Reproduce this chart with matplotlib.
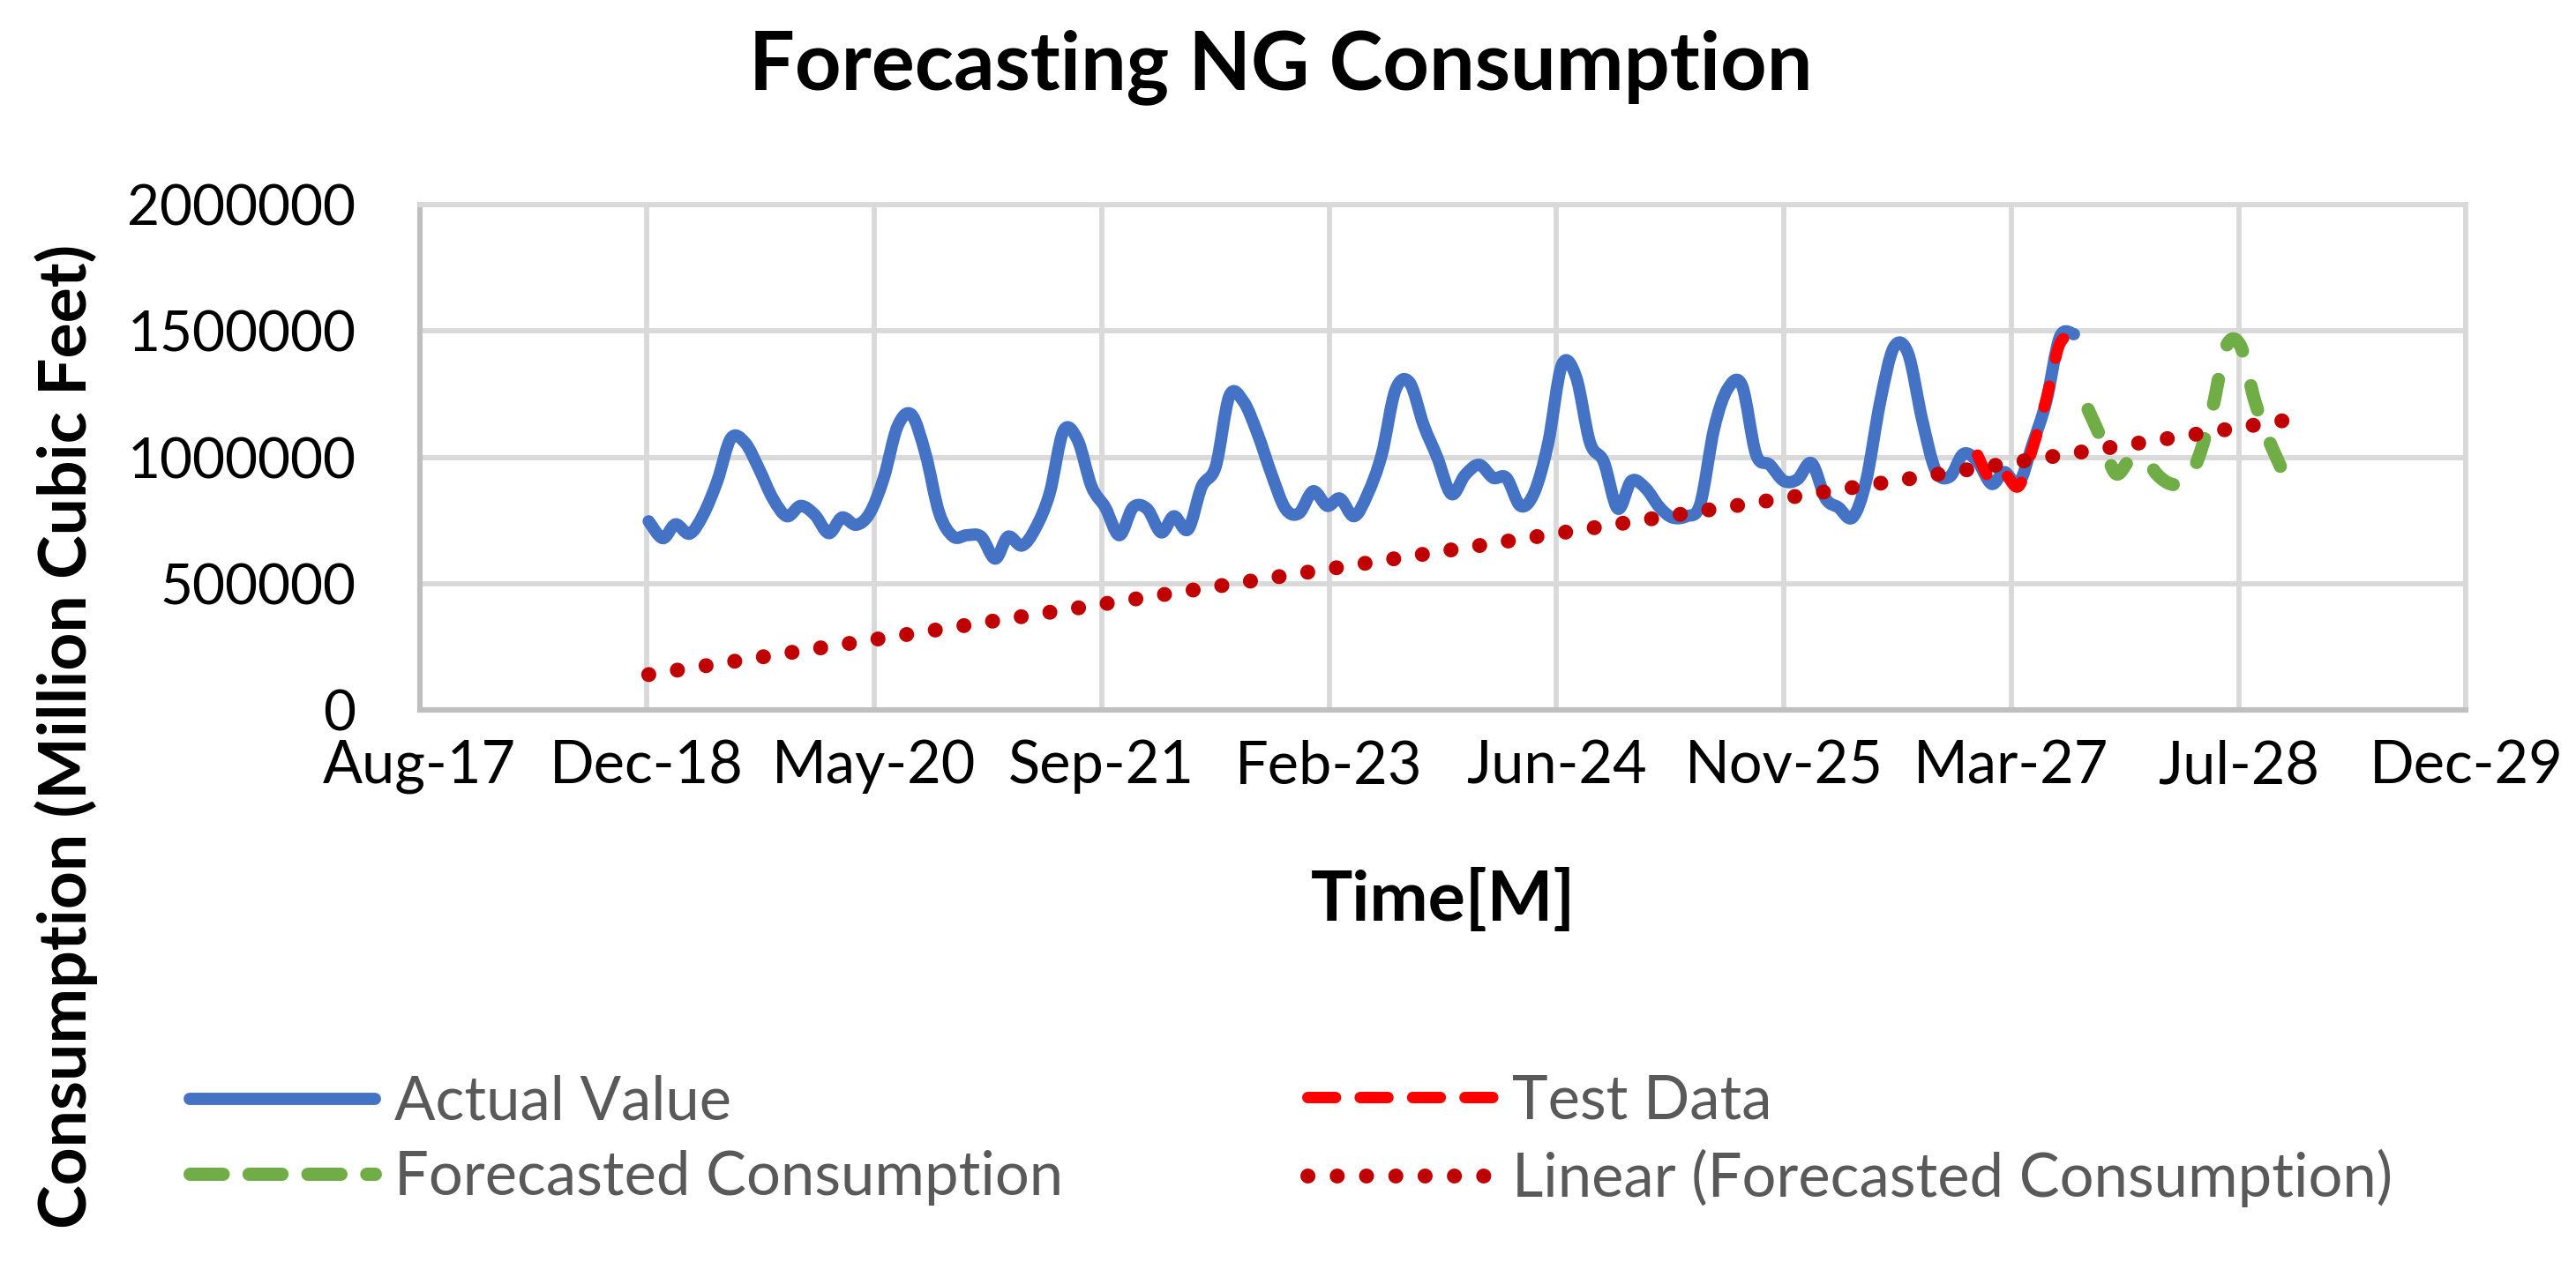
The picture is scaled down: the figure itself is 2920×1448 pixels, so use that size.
import matplotlib
matplotlib.use('Agg')
import matplotlib.pyplot as plt
import matplotlib.dates as mdates
from matplotlib.path import Path
from matplotlib.patches import PathPatch
from matplotlib.lines import Line2D
import numpy as np
import pandas as pd

# ---------------- data ----------------
actual_start = '2019-01-01'
actual_values = [
    747000, 680000, 735000, 698000, 773000, 907000, 1076000, 1058000, 953000, 837000,
    767000, 808000, 773000, 700000, 762000, 733000, 779000, 919000, 1122000, 1169000,
    1012000, 779000, 686000, 692000, 686000, 599000, 686000, 651000, 721000, 860000,
    1105000, 1070000, 884000, 802000, 692000, 802000, 796000, 703000, 767000, 715000,
    884000, 965000, 1244000, 1221000, 1093000, 936000, 797000, 779000, 866000, 808000,
    837000, 767000, 855000, 1012000, 1267000, 1297000, 1128000, 1000000, 855000, 930000,
    971000, 919000, 919000, 808000, 860000, 1058000, 1366000, 1320000, 1058000, 983000,
    797000, 907000, 878000, 802000, 762000, 767000, 814000, 1116000, 1273000, 1285000,
    1012000, 971000, 907000, 913000, 977000, 837000, 802000, 762000, 907000, 1221000,
    1436000, 1413000, 1151000, 948000, 924000, 1014000, 983000, 895000, 942000, 895000,
    1047000, 1221000, 1477000, 1488000,
]
test_start = '2027-01-01'
test_values = [1009000, 905000, 935000, 885000, 1030000, 1230000, 1450000, 1480000]
forecast_start = '2027-09-01'
forecast_values = [1190000, 1070000, 936000, 988000, 1000000, 930000, 895000, 901000,
                   1000000, 1198000, 1440000, 1442000, 1227000, 1076000, 948000]
trend_dates = ['2019-01-01', '2028-11-01']
trend_values = [140000, 1145000]

x_tick_dates = ['2017-08-15', '2018-12-28', '2020-05-11', '2021-09-23', '2023-02-05',
                '2024-06-19', '2025-11-01', '2027-03-16', '2028-07-28', '2029-12-10']
y_ticks = [0, 500000, 1000000, 1500000, 2000000]

title = 'Forecasting NG Consumption'
x_label = 'Time[M]'
y_label = 'Consumption (Million Cubic Feet)'
labels = ['Actual Value', 'Test Data', 'Forecasted Consumption', 'Linear (Forecasted Consumption)']

# ---------------- style ----------------
FONT = 'Lato'
plt.rcParams['font.family'] = [FONT, 'DejaVu Sans']
C_BLUE = '#4472C4'
C_RED = '#FF0000'
C_GREEN = '#70AD47'
C_TREND = '#C00000'
C_GRID = '#D9D9D9'
C_AXIS = '#BFBFBF'

DPI = 100
W, H = 2920, 1448
fig = plt.figure(figsize=(W / DPI, H / DPI), dpi=DPI)
ax = fig.add_axes([475.5 / W, 1 - 805 / H, (2795.3 - 475.5) / W, (805 - 232.3) / H])


def monthly(start, n):
    return mdates.date2num(pd.date_range(start, periods=n, freq='MS').to_pydatetime())


def smooth_path(x, y):
    pts = np.column_stack([x, y]).astype(float)
    n = len(pts)
    verts = [pts[0]]
    codes = [Path.MOVETO]
    for i in range(n - 1):
        p0 = pts[i - 1] if i > 0 else pts[i]
        p1 = pts[i]
        p2 = pts[i + 1]
        p3 = pts[i + 2] if i + 2 < n else pts[i + 1]
        c1 = p1 + (p2 - p0) / 6.0
        c2 = p2 - (p3 - p1) / 6.0
        verts += [c1, c2, p2]
        codes += [Path.CURVE4] * 3
    return Path(np.array(verts), codes)


LW_BLUE, LW_RED, LW_GREEN, LW_TREND = 10.0, 9.4, 10.8, 12.2
LS_RED = (0, (1.85, 2.5))
LS_GREEN = (0, (1.9, 2.7))

# axes limits first (needed to lay the trend dots out evenly)
tick_nums = mdates.date2num(pd.to_datetime(x_tick_dates).to_pydatetime())
ax.set_xlim(tick_nums[0], tick_nums[-1])
ax.set_ylim(y_ticks[0], y_ticks[-1])

xa = monthly(actual_start, len(actual_values))
xt = monthly(test_start, len(test_values))
xf = monthly(forecast_start, len(forecast_values))
xtr = mdates.date2num(pd.to_datetime(trend_dates).to_pydatetime())

ax.add_patch(PathPatch(smooth_path(xa, actual_values), facecolor='none', edgecolor=C_BLUE,
                       lw=LW_BLUE, capstyle='round', joinstyle='round', zorder=3))
ax.add_patch(PathPatch(smooth_path(xt, test_values), facecolor='none', edgecolor=C_RED,
                       lw=LW_RED, linestyle=LS_RED, capstyle='round', joinstyle='round', zorder=4))
ax.add_patch(PathPatch(smooth_path(xf, forecast_values), facecolor='none', edgecolor=C_GREEN,
                       lw=LW_GREEN, linestyle=LS_GREEN, capstyle='round', joinstyle='round', zorder=4))

# dotted trend: spacing ~33 px, with a dot at both ends
pix = ax.transData.transform(np.column_stack([xtr, trend_values]))
L = float(np.hypot(*(pix[1] - pix[0])))
lw_px = LW_TREND * DPI / 72
n_per = max(1, round(L / 33.0))
period = (L - 0.5) / n_per
LS_TREND = (0, (0.01, period / lw_px - 0.01))
ax.plot(xtr, trend_values, color=C_TREND, lw=LW_TREND, linestyle=LS_TREND,
        dash_capstyle='round', zorder=5)

# axes styling
ax.set_xticks(tick_nums)
ax.xaxis.set_major_formatter(mdates.DateFormatter('%b-%y'))
ax.set_yticks(y_ticks)
ax.set_yticklabels([str(v) for v in y_ticks])
ax.tick_params(axis='both', length=0, labelcolor='black')
ax.tick_params(axis='y', pad=52, labelsize=46)
ax.tick_params(axis='x', pad=24, labelsize=48)
ax.grid(True, color=C_GRID, lw=4.2, zorder=0)
ax.set_axisbelow(True)
for s in ['top', 'right']:
    ax.spines[s].set_color(C_GRID)
    ax.spines[s].set_linewidth(4.2)
for s in ['left', 'bottom']:
    ax.spines[s].set_color(C_AXIS)
    ax.spines[s].set_linewidth(4.4)

# texts
fig.text(1452 / W, 1 - 76 / H, title, ha='center', va='center', fontsize=66,
         fontweight='bold', color='black')
fig.text(1636 / W, 1 - 1022 / H, x_label, ha='center', va='center', fontsize=57,
         fontweight='bold', color='black')
fig.text(75 / W, 1 - 835 / H, y_label, ha='center', va='center', rotation=90,
         fontsize=54, fontweight='bold', color='black')

# legend
h_blue = Line2D([], [], color=C_BLUE, lw=LW_BLUE, solid_capstyle='round')
h_red = Line2D([], [], color=C_RED, lw=LW_RED, linestyle=(0, (2.4, 2.15)), dash_capstyle='round')
h_green = Line2D([], [], color=C_GREEN, lw=LW_GREEN, linestyle=(0, (2.5, 1.95)), dash_capstyle='round')
h_trend = Line2D([], [], color=C_TREND, lw=LW_TREND, linestyle=(0, (0.01, 1.95)),
                 dash_capstyle='round')

FS_LEG = 49.5
leg_kw = dict(loc='center left', frameon=False, borderpad=0, borderaxespad=0,
              handlelength=210 / (FS_LEG * DPI / 72), handletextpad=0.32, labelspacing=0.33,
              fontsize=FS_LEG, labelcolor='#595959')
fig.legend([h_blue, h_green], [labels[0], labels[2]],
           bbox_to_anchor=(215 / W, 1 - 1293 / H), **leg_kw)
fig.legend([h_red, h_trend], [labels[1], labels[3]],
           bbox_to_anchor=(1482 / W, 1 - 1293 / H), **leg_kw)

fig.savefig('out.png', dpi=DPI)
